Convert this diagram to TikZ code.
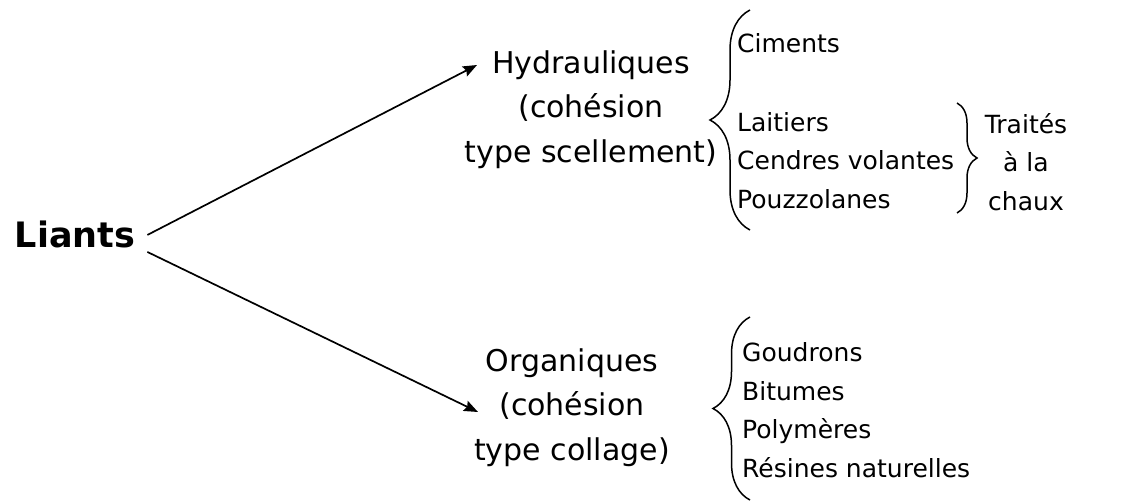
\documentclass[tikz,border=0pt]{standalone}
\usepackage{fontspec}
\setmainfont{DejaVu Sans}
\usetikzlibrary{positioning,calc}
\usetikzlibrary{arrows.meta,decorations.pathreplacing}
\tikzset{
  racine/.style={inner sep=0pt,font=\bfseries\fontsize{35}{40}\selectfont},
  famille/.style={inner sep=0pt,align=center,font=\fontsize{30}{44.5}\selectfont},
  liste/.style={inner sep=0pt,align=left,font=\fontsize{25}{38.5}\selectfont},
  fleche/.style={draw=black,line width=1.7pt,-{Stealth[length=14pt,width=11pt,inset=2pt]}},
  accol/.style={draw=black,line width=1.5pt,decorate,decoration={brace,amplitude=#1}},
}
\begin{document}
\begin{tikzpicture}[x=1pt,y=-1pt]
\useasboundingbox (0,0) rectangle (1130,503);
\node[racine,anchor=base] (liants) at (75,247) {Liants};
\node[famille,anchor=base] (hydr) at (591,162) {Hydrauliques\\(cohésion\\type scellement)};
\node[famille,anchor=base] (orga) at (572,460) {Organiques\\(cohésion\\type collage)};
\node[liste,anchor=base west] (ciments) at (737,53) {Ciments};
\node[liste,anchor=base west] (laitiers) at (737,208) {Laitiers\\Cendres volantes\\Pouzzolanes};
\node[liste,align=center,anchor=base] (chaux) at (1026,210) {Traités\\à la\\chaux};
\node[liste,anchor=base west] (goudrons) at (742,477) {Goudrons\\Bitumes\\Polymères\\Résines naturelles};
\coordinate (pointeH) at (477,65);
\coordinate (pointeO) at (478,412);
\draw[fleche] ([yshift=-1pt]liants.east) ++(12,0) -- (pointeH);
\draw[fleche] ([yshift=-18pt]liants.east) ++(12,0) -- (pointeO);
% accolades
\draw[accol=40pt] (750,230) -- (750,10);
\draw[accol=20pt] (957,103) -- (957,213);
\draw[accol=37pt] (750,500) -- (750,317);
\end{tikzpicture}
\end{document}
